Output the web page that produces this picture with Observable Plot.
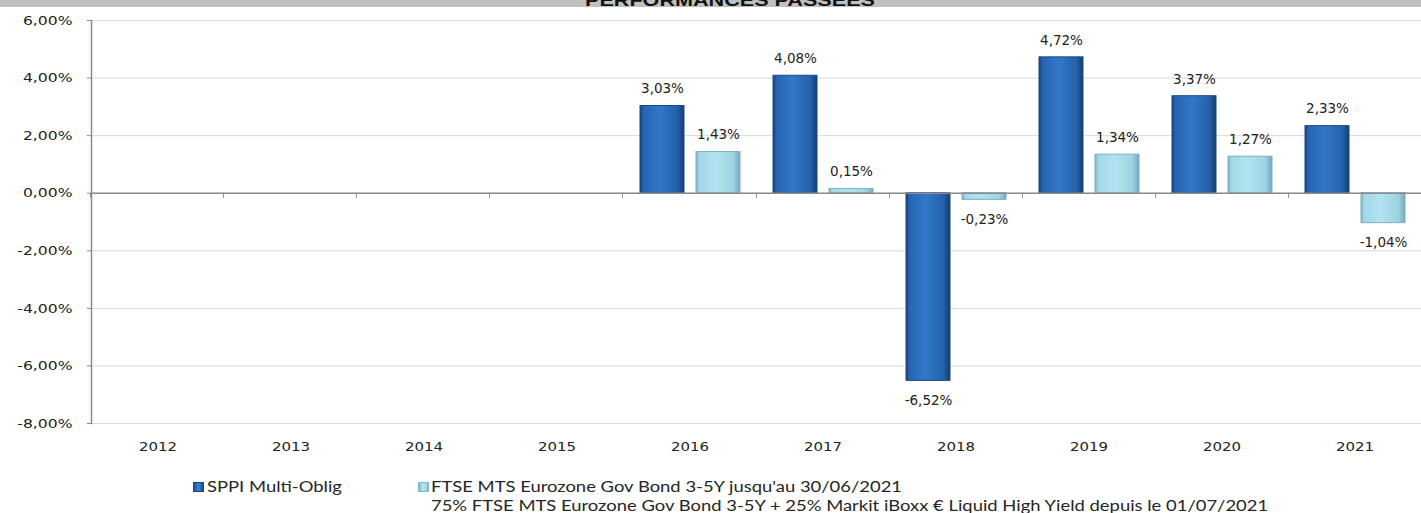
<!DOCTYPE html>
<html><head><meta charset="utf-8">
<script src="https://cdn.jsdelivr.net/npm/d3@7"></script>
<script src="https://cdn.jsdelivr.net/npm/@observablehq/plot@0.6"></script>
<style>
html,body{margin:0;padding:0;background:#fff;}
body{width:1421px;height:513px;overflow:hidden;position:relative;font-family:"DejaVu Sans",sans-serif;}
#band{position:absolute;left:0;top:0;}
#chart{position:absolute;left:0;top:7px;}
.leg{position:absolute;font-family:Lato,sans-serif;font-size:14.5px;color:#262626;white-space:nowrap;transform-origin:0 50%;transform:scaleX(1.27);line-height:16px;}
.sw{position:absolute;width:11px;height:10px;}
</style></head><body>
<svg id="band" width="1421" height="7"><rect width="1421" height="7" fill="#c0c0c0"/><text x="730" y="5.5" text-anchor="middle" font-family="Liberation Sans" font-weight="bold" font-size="16" textLength="290" lengthAdjust="spacingAndGlyphs" fill="#111">PERFORMANCES PASSEES</text></svg>
<div id="chart"></div>
<div class="sw" style="left:193px;top:482px;background:linear-gradient(90deg,#1c4f8f,#3a80d4 45%,#2563ad 85%,#173f75);border:1px solid #1a4a85;box-sizing:border-box"></div>
<div class="leg" id="l1" style="left:207px;top:479px;">SPPI Multi-Oblig</div>
<div class="sw" style="left:418px;top:482px;background:linear-gradient(90deg,#7fb7c9,#b9e6f2 45%,#9fd6e6 85%,#78aec0);border:1px solid #86b9c9;box-sizing:border-box"></div>
<div class="leg" id="l2" style="left:431px;top:479px;">FTSE MTS Eurozone Gov Bond 3-5Y jusqu'au 30/06/2021</div>
<div class="leg" id="l3" style="left:431px;top:498px;">75% FTSE MTS Eurozone Gov Bond 3-5Y + 25% Markit iBoxx € Liquid High Yield depuis le 01/07/2021</div>
<script>
const years = ["2012","2013","2014","2015","2016","2017","2018","2019","2020","2021"];
const seriesNames = ["SPPI Multi-Oblig", "Indicateur de référence"];
const sppiValues  = [null, null, null, null, 3.03, 4.08, -6.52, 4.72, 3.37, 2.33];
const benchValues = [null, null, null, null, 1.43, 0.15, -0.23, 1.34, 1.27, -1.04];
const yTicks = [-8, -6, -4, -2, 0, 2, 4, 6];

const data = years.flatMap((yr, i) => [
  {year: yr, series: seriesNames[0], value: sppiValues[i]},
  {year: yr, series: seriesNames[1], value: benchValues[i]}
]);
const fmt = v => v.toFixed(2).replace(".", ",") + "%";
const labelOpts = {fx: "year", x: "series", y: "value", text: d => d.value == null ? null : fmt(d.value),
  fontSize: 13.5, fill: "#222", lineAnchor: "middle"};

const chart = Plot.plot({
  width: 1421,
  height: 460,
  marginLeft: 90,
  marginRight: 0,
  marginTop: 13,
  marginBottom: 44,
  style: {fontFamily: "DejaVu Sans", fontSize: "13px", color: "#222", background: "transparent"},
  fx: {domain: years, padding: 0, label: null},
  x: {domain: seriesNames, paddingInner: 0.22, paddingOuter: 0.28, axis: null},
  y: {domain: [-8, 6], label: null},
  color: {domain: seriesNames, range: ["url(#gSppi)", "url(#gBench)"]},
  marks: [
    Plot.gridY(yTicks, {stroke: "#d9d9d9", strokeOpacity: 1}),
    Plot.axisY(yTicks, {tickFormat: fmt, tickSize: 4, tickPadding: 15, stroke: "#8c8c8c", label: null, fontSize: 13}),
    Plot.axisFx({anchor: "bottom", tickSize: 0, tickPadding: 18, label: null, fontSize: 13}),
    Plot.frame({anchor: "left", facetAnchor: "left", stroke: "#8c8c8c", strokeWidth: 1.5}),
    Plot.barY(data, {filter: d => d.series === seriesNames[0] && d.value != null, fx: "year", x: "series", y: "value", fill: "series", stroke: "#1b4a80", strokeWidth: 1}),
    Plot.barY(data, {filter: d => d.series === seriesNames[1] && d.value != null, fx: "year", x: "series", y: "value", fill: "series", stroke: "#7fb0c0", strokeWidth: 1}),
    Plot.ruleY([0], {stroke: "#8c8c8c", strokeWidth: 1.5}),
    Plot.text(data, {...labelOpts, filter: d => d.value != null && d.value >= 0, dy: -17}),
    Plot.text(data, {...labelOpts, filter: d => d.value != null && d.value < 0, dy: 20})
  ]
});
document.getElementById("chart").appendChild(chart);

// gradients for the bevelled bars
const defs = d3.select(chart).insert("defs", ":first-child");
function grad(id, stops) {
  const g = defs.append("linearGradient").attr("id", id).attr("x1", "0").attr("x2", "1").attr("y1", "0").attr("y2", "0");
  stops.forEach(([o, c]) => g.append("stop").attr("offset", o).attr("stop-color", c));
}
grad("gSppi", [["0", "#173f74"], ["0.08", "#2764b3"], ["0.45", "#3177c9"], ["0.85", "#2461ab"], ["1", "#163c6e"]]);
grad("gBench", [["0", "#7db4c6"], ["0.08", "#a3d8e8"], ["0.45", "#b3e3f0"], ["0.85", "#9dd3e3"], ["1", "#74a9bb"]]);

try {
  // category boundary ticks on the zero line, derived from the plot's fx and y scales
  const fxD = chart.scale("fx"), yD = chart.scale("y");
  const fxB = d3.scaleBand().domain(fxD.domain).range(fxD.range).padding(0);
  const yL = d3.scaleLinear().domain(yD.domain).range(yD.range);
  const y0 = yL(0);
  const bounds = fxD.domain.map(v => fxB(v)).concat([fxB.range()[1]]);
  d3.select(chart).append("g").attr("stroke", "#8c8c8c").attr("stroke-width", 1).selectAll("line").data(bounds).join("line")
    .attr("x1", d => Math.round(d) + 0.5).attr("x2", d => Math.round(d) + 0.5).attr("y1", y0).attr("y2", y0 + 5);
} catch (e) { console.log(e); }

// horizontal stretch of the axis text, as in the reference
d3.select(chart).selectAll("g[aria-label='y-axis tick label'] text").each(function() {
  const w = this.getComputedTextLength();
  this.setAttribute("textLength", w * 1.2); this.setAttribute("lengthAdjust", "spacingAndGlyphs");
});
d3.select(chart).selectAll("g[aria-label='fx-axis tick label'] text").each(function() {
  const w = this.getComputedTextLength();
  this.setAttribute("textLength", w * 1.15); this.setAttribute("lengthAdjust", "spacingAndGlyphs");
});
</script>
</body></html>
